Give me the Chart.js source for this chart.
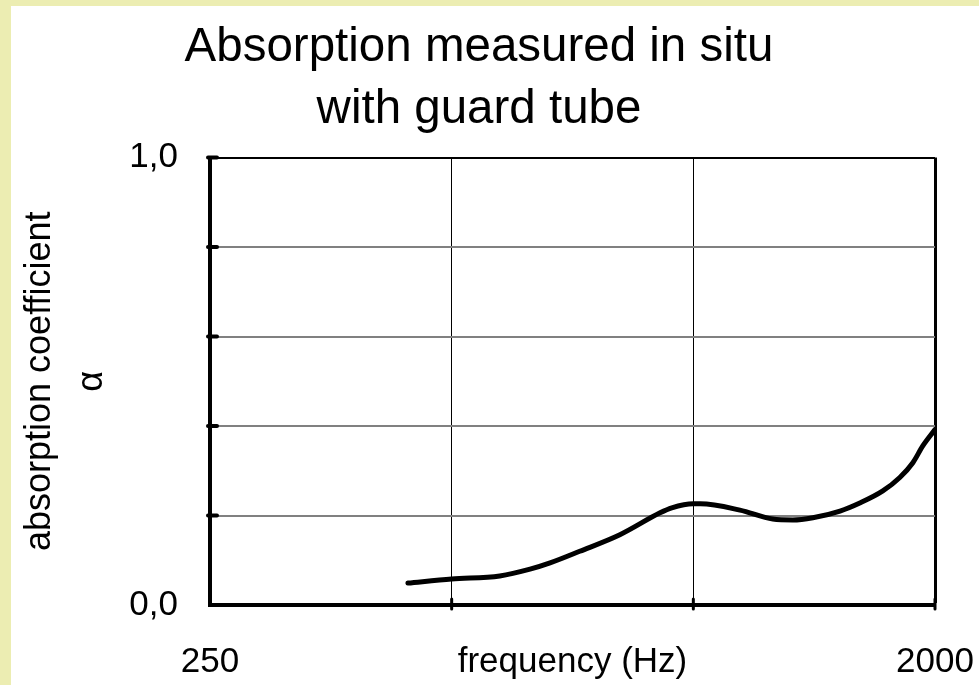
<!DOCTYPE html>
<html>
<head>
<meta charset="utf-8">
<script src="https://cdn.jsdelivr.net/npm/chart.js@4/dist/chart.umd.min.js"></script>
<style>
html,body{margin:0;padding:0;background:#fff;}
#wrap{width:979px;height:685px;}
</style>
</head>
<body>
<div id="wrap"><canvas id="c" width="979" height="685"></canvas></div>
<script>
// Data
const frequencies = [441, 500, 574, 626, 663, 722, 810, 909, 940, 1000, 1020, 1143, 1256, 1330, 1409, 1523, 1612, 1722, 1808, 1877, 1932, 2000];
const alphaValues = [0.049, 0.058, 0.065, 0.080, 0.094, 0.120, 0.157, 0.206, 0.217, 0.226, 0.226, 0.212, 0.192, 0.190, 0.195, 0.210, 0.228, 0.255, 0.285, 0.318, 0.356, 0.392];
const xTickValues = [250, 500, 1000, 2000];
const xTickLabels = {250: '250', 2000: '2000'};
const yTickLabels = {0: '0,0', 1: '1,0'};
const titleLines = ['Absorption measured in situ', 'with guard tube'];
const yTitleLines = ['absorption coefficient', 'α'];
const xTitle = 'frequency (Hz)';

const FONT = "'Liberation Sans', Arial, sans-serif";

const bgPlugin = {
  id: 'bg',
  beforeDraw(chart) {
    const ctx = chart.ctx;
    ctx.save();
    ctx.fillStyle = '#ecedb2';
    ctx.fillRect(0, 0, chart.width, chart.height);
    ctx.fillStyle = '#ffffff';
    ctx.fillRect(11, 6, chart.width - 11, chart.height - 6);
    ctx.restore();
  }
};

const tickMarks = {
  id: 'tickMarks',
  afterDraw(chart) {
    const ctx = chart.ctx;
    const xs = chart.scales.x, ys = chart.scales.y;
    const area = chart.chartArea;
    ctx.save();
    ctx.strokeStyle = '#000';
    ctx.lineCap = 'round';
    ctx.lineWidth = 4;
    [0.2, 0.4, 0.6, 0.8, 1.0].forEach(v => {
      const y = ys.getPixelForValue(v);
      ctx.beginPath();
      ctx.moveTo(area.left - 2, y);
      ctx.lineTo(area.left + 7, y);
      ctx.stroke();
    });
    ctx.lineWidth = 3;
    [500, 1000, 2000].forEach(v => {
      const x = xs.getPixelForValue(v);
      ctx.beginPath();
      ctx.moveTo(x, area.bottom - 6);
      ctx.lineTo(x, area.bottom + 4);
      ctx.stroke();
    });
    ctx.restore();
  }
};

new Chart(document.getElementById('c'), {
  type: 'line',
  data: {
    datasets: [{
      data: frequencies.map((f, i) => ({x: f, y: alphaValues[i]})),
      borderColor: '#000',
      borderWidth: 5,
      pointRadius: 0,
      cubicInterpolationMode: 'monotone',
      fill: false,
      borderCapStyle: 'round',
      borderJoinStyle: 'round'
    }]
  },
  options: {
    responsive: false,
    devicePixelRatio: 1,
    animation: false,
    layout: {padding: {left: 23, right: 44, top: 0, bottom: 0}},
    plugins: {
      legend: {display: false},
      tooltip: {enabled: false},
      title: {
        display: true,
        text: titleLines,
        color: '#000',
        font: {family: FONT, size: 47.5, weight: 'normal', lineHeight: 1.3},
        padding: {top: 17, bottom: 17}
      }
    },
    scales: {
      x: {
        type: 'logarithmic',
        min: 250,
        max: 2000,
        afterBuildTicks(scale) {
          scale.ticks = xTickValues.map(v => ({value: v}));
        },
        afterFit(scale) { scale.height = 80; },
        ticks: {
          autoSkip: false,
          maxRotation: 0,
          color: '#000',
          padding: 0,
          font: {family: FONT, size: 35},
          callback: (v) => xTickLabels[v] || ''
        },
        grid: {
          drawTicks: true,
          tickLength: 36,
          tickColor: 'rgba(0,0,0,0)',
          color: '#000',
          lineWidth: (c) => (c.tick && c.tick.value === 2000) ? 3 : 1
        },
        border: {display: true, color: '#000', width: 4},
        title: {
          display: true,
          text: xTitle,
          color: '#000',
          font: {family: FONT, size: 35},
          padding: {top: 0, bottom: 2}
        }
      },
      y: {
        min: 0,
        max: 1,
        afterFit(scale) { scale.width = 187; },
        ticks: {
          stepSize: 0.2,
          color: '#000',
          padding: 32,
          font: {family: FONT, size: 35},
          callback: (v) => {
            if (Math.abs(v) < 1e-6) return yTickLabels[0];
            if (Math.abs(v - 1) < 1e-6) return yTickLabels[1];
            return '';
          }
        },
        grid: {
          drawTicks: false,
          color: (c) => (c.tick && Math.abs(c.tick.value - 1) < 1e-6) ? '#000' : '#808080',
          lineWidth: 2
        },
        border: {display: true, color: '#000', width: 4},
        title: {
          display: true,
          text: yTitleLines,
          color: '#000',
          font: {family: FONT, size: 36, lineHeight: 1.44},
          padding: {top: -9, bottom: 0}
        }
      }
    }
  },
  plugins: [bgPlugin, tickMarks]
});
</script>
</body>
</html>
